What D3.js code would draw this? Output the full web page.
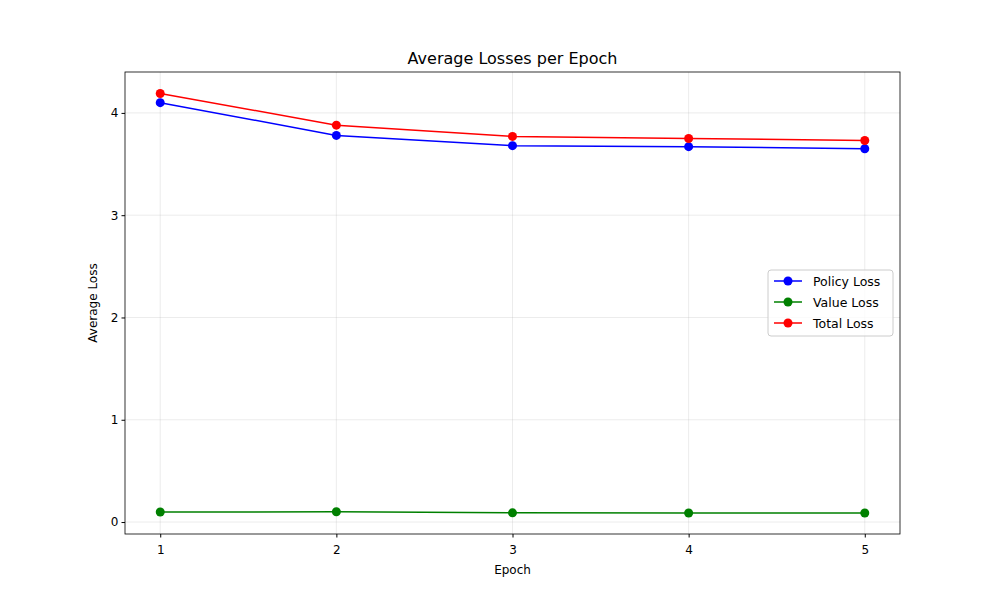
<!DOCTYPE html>
<html><head><meta charset="utf-8">
<script src="https://cdn.jsdelivr.net/npm/d3@7"></script>
<style>body{margin:0;background:#fff}text{font-family:"DejaVu Sans",sans-serif}</style>
</head><body><svg id="c" width="1000" height="600"></svg>
<script>
const epochs=[1,2,3,4,5];
const policyLoss=[4.10,3.78,3.68,3.67,3.65];
const valueLoss=[0.098,0.100,0.090,0.088,0.088];
const totalLoss=[4.19,3.88,3.77,3.75,3.73];
const yTicks=[0,1,2,3,4];
const series=[{name:"Policy Loss",v:policyLoss,c:"blue"},{name:"Value Loss",v:valueLoss,c:"green"},{name:"Total Loss",v:totalLoss,c:"red"}];
const L=125,R=900,T=72,B=534;
const svg=d3.select("#c");
const x=d3.scaleLinear().domain([0.8,5.2]).range([L,R]);
const y=d3.scaleLinear().domain([-0.117,4.40]).range([B,T]);
const g=svg.append("g");
epochs.forEach(e=>g.append("line").attr("x1",x(e)).attr("x2",x(e)).attr("y1",T).attr("y2",B).attr("stroke","#b0b0b0").attr("stroke-opacity",0.3).attr("stroke-width",0.8));
yTicks.forEach(t=>g.append("line").attr("x1",L).attr("x2",R).attr("y1",y(t)).attr("y2",y(t)).attr("stroke","#b0b0b0").attr("stroke-opacity",0.3).attr("stroke-width",0.8));
const xa=svg.append("g").attr("transform",`translate(0,${B})`).call(d3.axisBottom(x).tickValues(epochs).tickFormat(d3.format("d")).tickSize(3.5).tickSizeOuter(0));
const ya=svg.append("g").attr("transform",`translate(${L},0)`).call(d3.axisLeft(y).tickValues(yTicks).tickFormat(d3.format("d")).tickSize(3.5).tickSizeOuter(0));
[xa,ya].forEach(a=>{a.select(".domain").remove();a.selectAll("text").attr("font-size",12).attr("fill","#000").style("font-family","DejaVu Sans");});
xa.selectAll("text").attr("dy","1.1em");
svg.append("rect").attr("x",L).attr("y",T).attr("width",R-L).attr("height",B-T).attr("fill","none").attr("stroke","#000").attr("stroke-width",0.8);
const line=d3.line().x((d,i)=>x(epochs[i])).y(d=>y(d));
series.forEach(s=>{
 svg.append("path").attr("d",line(s.v)).attr("fill","none").attr("stroke",s.c).attr("stroke-width",1.5);
 s.v.forEach((d,i)=>svg.append("circle").attr("cx",x(epochs[i])).attr("cy",y(d)).attr("r",4.5).attr("fill",s.c));
});
svg.append("text").attr("x",(L+R)/2).attr("y",64).attr("text-anchor","middle").attr("font-size",16).text("Average Losses per Epoch");
svg.append("text").attr("x",(L+R)/2).attr("y",574).attr("text-anchor","middle").attr("font-size",12).text("Epoch");
svg.append("text").attr("transform",`translate(97,${(T+B)/2}) rotate(-90)`).attr("text-anchor","middle").attr("font-size",12).text("Average Loss");
const lg=svg.append("g").attr("transform","translate(768,270)");
lg.append("rect").attr("width",125).attr("height",66).attr("rx",3).attr("fill","#fff").attr("fill-opacity",0.8).attr("stroke","#ccc");
series.forEach((s,i)=>{
 const yy=11+i*21;
 lg.append("line").attr("x1",6).attr("x2",34).attr("y1",yy).attr("y2",yy).attr("stroke",s.c).attr("stroke-width",1.5);
 lg.append("circle").attr("cx",20).attr("cy",yy).attr("r",4.5).attr("fill",s.c);
 lg.append("text").attr("x",45).attr("y",yy+4.5).attr("font-size",12.5).text(s.name);
});
</script></body></html>
